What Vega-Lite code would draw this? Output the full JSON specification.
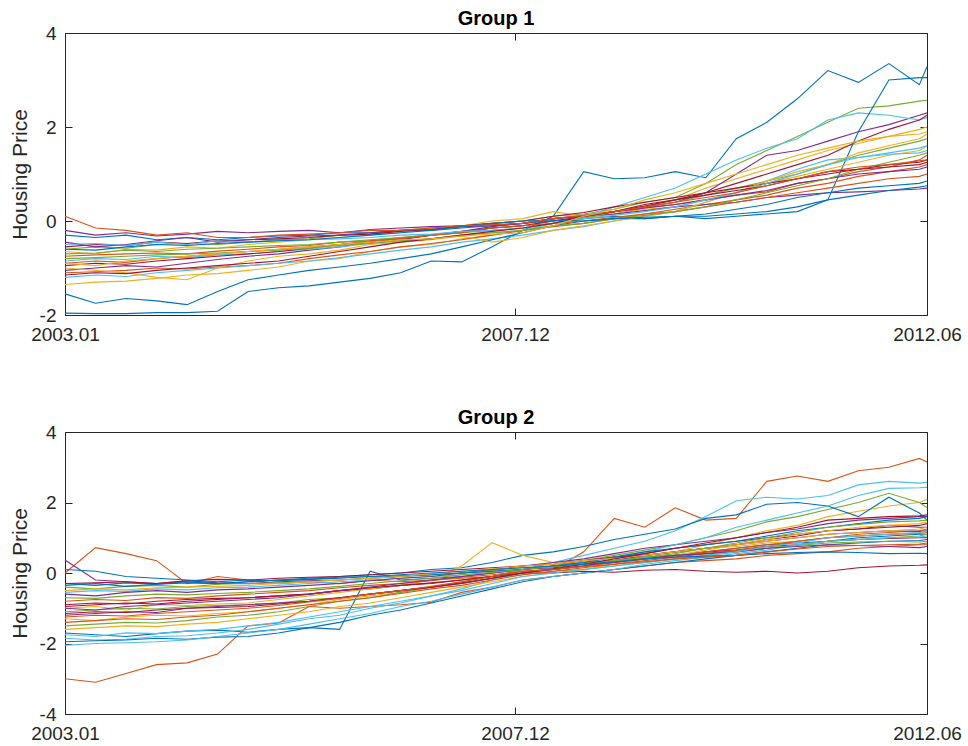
{
"$schema": "https://vega.github.io/schema/vega-lite/v6.json",
"background": "white",
"padding": {"left": 8, "top": 8, "right": 12, "bottom": 6},
"bounds": "flush",
"spacing": 117,
"config": {
  "view": {"stroke": "#262626", "strokeWidth": 1},
  "font": "Liberation Sans",
  "axis": {"domain": false, "grid": false, "tickColor": "#262626", "tickSize": 7, "offset": -7, "labelColor": "#262626", "labelFont": "Liberation Sans", "labelFontSize": 19, "titleFont": "Liberation Sans", "titleFontSize": 21, "titleFontWeight": "normal", "titleColor": "#262626", "labelOverlap": false, "labelFlush": false},
  "title": {"font": "Liberation Sans", "fontSize": 20, "fontWeight": "bold", "color": "#000000", "offset": -5, "anchor": "middle"}
},
"datasets": {
"g1": [
{"t":1,"s01":-1.96,"s02":-0.75,"s03":-1.35,"s04":-1.05,"s05":-0.6,"s06":-0.85,"s07":-0.95,"s08":-0.3,"s09":-1.1,"s10":-0.65,"s11":-0.2,"s12":-0.7,"s13":-1.2,"s14":-0.55,"s15":-1.55,"s16":-0.9,"s17":-1.0,"s18":-0.45,"s19":-0.8,"s20":-0.5,"s21":-1.15,"s22":-0.6,"s23":0.1,"s24":-0.9},
{"t":5,"s01":-1.97,"s02":-0.72,"s03":-1.3,"s04":-1.0,"s05":-0.55,"s06":-0.8,"s07":-0.9,"s08":-0.35,"s09":-1.08,"s10":-0.7,"s11":-0.3,"s12":-0.68,"s13":-1.15,"s14":-0.5,"s15":-1.75,"s16":-0.85,"s17":-1.05,"s18":-0.55,"s19":-0.78,"s20":-0.48,"s21":-1.1,"s22":-0.62,"s23":-0.15,"s24":-0.95},
{"t":9,"s01":-1.97,"s02":-0.7,"s03":-1.28,"s04":-0.95,"s05":-0.58,"s06":-0.82,"s07":-0.92,"s08":-0.3,"s09":-1.05,"s10":-0.6,"s11":-0.25,"s12":-0.62,"s13":-1.18,"s14":-0.52,"s15":-1.65,"s16":-0.88,"s17":-1.1,"s18":-0.5,"s19":-0.75,"s20":-0.52,"s21":-1.12,"s22":-0.55,"s23":-0.2,"s24":-0.85},
{"t":13,"s01":-1.95,"s02":-0.68,"s03":-1.22,"s04":-0.98,"s05":-0.5,"s06":-0.75,"s07":-0.85,"s08":-0.4,"s09":-1.0,"s10":-0.62,"s11":-0.32,"s12":-0.65,"s13":-1.1,"s14":-0.45,"s15":-1.7,"s16":-0.8,"s17":-1.2,"s18":-0.42,"s19":-0.72,"s20":-0.45,"s21":-1.05,"s22":-0.5,"s23":-0.3,"s24":-0.8},
{"t":17,"s01":-1.95,"s02":-0.7,"s03":-1.15,"s04":-0.9,"s05":-0.48,"s06":-0.78,"s07":-0.8,"s08":-0.35,"s09":-1.02,"s10":-0.55,"s11":-0.28,"s12":-0.6,"s13":-1.05,"s14":-0.48,"s15":-1.78,"s16":-0.75,"s17":-1.25,"s18":-0.35,"s19":-0.7,"s20":-0.5,"s21":-1.0,"s22":-0.52,"s23":-0.25,"s24":-0.75},
{"t":21,"s01":-1.92,"s02":-0.64,"s03":-1.12,"s04":-0.82,"s05":-0.5,"s06":-0.72,"s07":-0.75,"s08":-0.4,"s09":-0.98,"s10":-0.58,"s11":-0.22,"s12":-0.58,"s13":-1.0,"s14":-0.42,"s15":-1.5,"s16":-0.7,"s17":-1.0,"s18":-0.45,"s19":-0.68,"s20":-0.42,"s21":-0.95,"s22":-0.48,"s23":-0.35,"s24":-0.7},
{"t":25,"s01":-1.5,"s02":-0.6,"s03":-1.05,"s04":-0.75,"s05":-0.45,"s06":-0.7,"s07":-0.7,"s08":-0.35,"s09":-0.95,"s10":-0.5,"s11":-0.25,"s12":-0.55,"s13":-0.95,"s14":-0.4,"s15":-1.25,"s16":-0.65,"s17":-0.85,"s18":-0.4,"s19":-0.65,"s20":-0.45,"s21":-0.9,"s22":-0.45,"s23":-0.35,"s24":-0.65},
{"t":29,"s01":-1.42,"s02":-0.55,"s03":-0.98,"s04":-0.7,"s05":-0.4,"s06":-0.65,"s07":-0.65,"s08":-0.32,"s09":-0.9,"s10":-0.45,"s11":-0.22,"s12":-0.52,"s13":-0.9,"s14":-0.38,"s15":-1.15,"s16":-0.6,"s17":-0.75,"s18":-0.35,"s19":-0.62,"s20":-0.42,"s21":-0.85,"s22":-0.42,"s23":-0.3,"s24":-0.6},
{"t":33,"s01":-1.38,"s02":-0.52,"s03":-0.85,"s04":-0.62,"s05":-0.38,"s06":-0.6,"s07":-0.58,"s08":-0.3,"s09":-0.8,"s10":-0.4,"s11":-0.2,"s12":-0.5,"s13":-0.85,"s14":-0.35,"s15":-1.05,"s16":-0.55,"s17":-0.7,"s18":-0.32,"s19":-0.58,"s20":-0.4,"s21":-0.75,"s22":-0.4,"s23":-0.28,"s24":-0.55},
{"t":37,"s01":-1.3,"s02":-0.45,"s03":-0.8,"s04":-0.55,"s05":-0.3,"s06":-0.55,"s07":-0.5,"s08":-0.25,"s09":-0.72,"s10":-0.35,"s11":-0.25,"s12":-0.45,"s13":-0.78,"s14":-0.3,"s15":-0.98,"s16":-0.5,"s17":-0.62,"s18":-0.3,"s19":-0.52,"s20":-0.38,"s21":-0.65,"s22":-0.35,"s23":-0.25,"s24":-0.5},
{"t":41,"s01":-1.22,"s02":-0.42,"s03":-0.65,"s04":-0.45,"s05":-0.28,"s06":-0.48,"s07":-0.45,"s08":-0.25,"s09":-0.65,"s10":-0.3,"s11":-0.18,"s12":-0.4,"s13":-0.7,"s14":-0.28,"s15":-0.9,"s16":-0.42,"s17":-0.5,"s18":-0.25,"s19":-0.48,"s20":-0.35,"s21":-0.55,"s22":-0.3,"s23":-0.2,"s24":-0.45},
{"t":45,"s01":-1.1,"s02":-0.35,"s03":-0.55,"s04":-0.4,"s05":-0.2,"s06":-0.42,"s07":-0.38,"s08":-0.2,"s09":-0.55,"s10":-0.25,"s11":-0.15,"s12":-0.35,"s13":-0.62,"s14":-0.22,"s15":-0.8,"s16":-0.38,"s17":-0.45,"s18":-0.2,"s19":-0.42,"s20":-0.3,"s21":-0.45,"s22":-0.25,"s23":-0.2,"s24":-0.4},
{"t":49,"s01":-0.85,"s02":-0.3,"s03":-0.5,"s04":-0.3,"s05":-0.15,"s06":-0.38,"s07":-0.3,"s08":-0.2,"s09":-0.48,"s10":-0.15,"s11":-0.12,"s12":-0.3,"s13":-0.55,"s14":-0.18,"s15":-0.7,"s16":-0.3,"s17":-0.4,"s18":-0.18,"s19":-0.38,"s20":-0.28,"s21":-0.38,"s22":-0.2,"s23":-0.15,"s24":-0.38},
{"t":53,"s01":-0.87,"s02":-0.22,"s03":-0.38,"s04":-0.22,"s05":-0.1,"s06":-0.3,"s07":-0.25,"s08":-0.15,"s09":-0.4,"s10":-0.1,"s11":-0.1,"s12":-0.25,"s13":-0.45,"s14":-0.1,"s15":-0.55,"s16":-0.25,"s17":-0.32,"s18":-0.12,"s19":-0.3,"s20":-0.22,"s21":-0.3,"s22":-0.12,"s23":-0.1,"s24":-0.32},
{"t":57,"s01":-0.55,"s02":-0.15,"s03":-0.3,"s04":-0.12,"s05":-0.05,"s06":-0.25,"s07":-0.15,"s08":-0.1,"s09":-0.3,"s10":0.0,"s11":-0.08,"s12":-0.2,"s13":-0.38,"s14":-0.05,"s15":-0.4,"s16":-0.15,"s17":-0.45,"s18":-0.1,"s19":-0.25,"s20":-0.2,"s21":-0.22,"s22":-0.05,"s23":-0.08,"s24":-0.28},
{"t":61,"s01":-0.2,"s02":-0.1,"s03":-0.2,"s04":-0.05,"s05":0.0,"s06":-0.2,"s07":-0.1,"s08":-0.05,"s09":-0.2,"s10":0.05,"s11":-0.05,"s12":-0.15,"s13":-0.3,"s14":0.0,"s15":-0.25,"s16":-0.1,"s17":-0.35,"s18":-0.05,"s19":-0.2,"s20":-0.15,"s21":-0.15,"s22":0.0,"s23":-0.05,"s24":-0.25},
{"t":65,"s01":0.1,"s02":0.0,"s03":-0.1,"s04":0.05,"s05":0.1,"s06":-0.05,"s07":0.0,"s08":0.0,"s09":-0.12,"s10":0.2,"s11":0.05,"s12":-0.05,"s13":-0.2,"s14":0.1,"s15":-0.1,"s16":-0.05,"s17":-0.2,"s18":0.05,"s19":-0.1,"s20":-0.05,"s21":-0.05,"s22":0.02,"s23":0.05,"s24":-0.1},
{"t":69,"s01":1.05,"s02":0.08,"s03":0.05,"s04":0.12,"s05":0.15,"s06":0.1,"s07":0.1,"s08":0.05,"s09":-0.05,"s10":0.1,"s11":0.1,"s12":0.05,"s13":-0.12,"s14":0.18,"s15":0.0,"s16":0.0,"s17":-0.1,"s18":0.1,"s19":-0.05,"s20":0.05,"s21":0.1,"s22":0.0,"s23":0.12,"s24":0.1},
{"t":73,"s01":0.9,"s02":0.15,"s03":0.2,"s04":0.2,"s05":0.25,"s06":0.3,"s07":0.2,"s08":0.1,"s09":0.05,"s10":0.15,"s11":0.15,"s12":0.2,"s13":0.0,"s14":0.3,"s15":0.05,"s16":0.08,"s17":0.0,"s18":0.2,"s19":0.05,"s20":0.12,"s21":0.2,"s22":0.05,"s23":0.2,"s24":0.25},
{"t":77,"s01":0.92,"s02":0.28,"s03":0.3,"s04":0.3,"s05":0.4,"s06":0.5,"s07":0.35,"s08":0.05,"s09":0.15,"s10":0.25,"s11":0.22,"s12":0.3,"s13":0.1,"s14":0.4,"s15":0.05,"s16":0.15,"s17":0.1,"s18":0.28,"s19":0.12,"s20":0.2,"s21":0.32,"s22":0.08,"s23":0.3,"s24":0.45},
{"t":81,"s01":1.05,"s02":0.35,"s03":0.45,"s04":0.4,"s05":0.5,"s06":0.7,"s07":0.45,"s08":0.1,"s09":0.25,"s10":0.3,"s11":0.3,"s12":0.4,"s13":0.2,"s14":0.5,"s15":0.1,"s16":0.2,"s17":0.2,"s18":0.35,"s19":0.2,"s20":0.3,"s21":0.45,"s22":0.1,"s23":0.4,"s24":0.6},
{"t":85,"s01":0.92,"s02":0.45,"s03":0.7,"s04":0.6,"s05":0.8,"s06":1.0,"s07":0.6,"s08":0.05,"s09":0.35,"s10":0.45,"s11":0.35,"s12":0.55,"s13":0.4,"s14":0.6,"s15":0.1,"s16":0.3,"s17":0.4,"s18":0.45,"s19":0.3,"s20":0.45,"s21":0.55,"s22":0.15,"s23":0.5,"s24":0.8},
{"t":89,"s01":1.75,"s02":0.55,"s03":0.9,"s04":1.0,"s05":1.2,"s06":1.3,"s07":0.8,"s08":0.1,"s09":0.45,"s10":0.6,"s11":0.4,"s12":0.7,"s13":0.6,"s14":0.7,"s15":0.15,"s16":0.4,"s17":0.6,"s18":0.55,"s19":0.45,"s20":0.6,"s21":0.65,"s22":0.25,"s23":0.6,"s24":1.0},
{"t":93,"s01":2.1,"s02":0.62,"s03":1.1,"s04":1.4,"s05":1.5,"s06":1.55,"s07":1.0,"s08":0.15,"s09":0.55,"s10":0.8,"s11":0.5,"s12":0.85,"s13":0.85,"s14":0.8,"s15":0.2,"s16":0.5,"s17":0.85,"s18":0.65,"s19":0.6,"s20":0.8,"s21":0.75,"s22":0.35,"s23":0.75,"s24":1.2},
{"t":97,"s01":2.6,"s02":0.8,"s03":1.3,"s04":1.5,"s05":1.8,"s06":1.75,"s07":1.2,"s08":0.2,"s09":0.7,"s10":0.95,"s11":0.55,"s12":1.0,"s13":1.1,"s14":0.9,"s15":0.3,"s16":0.6,"s17":1.05,"s18":0.8,"s19":0.75,"s20":1.0,"s21":0.9,"s22":0.5,"s23":0.9,"s24":1.4},
{"t":101,"s01":3.2,"s02":0.9,"s03":1.5,"s04":1.7,"s05":2.1,"s06":2.15,"s07":1.4,"s08":0.45,"s09":0.8,"s10":1.1,"s11":0.6,"s12":1.2,"s13":1.3,"s14":1.0,"s15":0.45,"s16":0.7,"s17":1.2,"s18":0.9,"s19":0.9,"s20":1.2,"s21":1.05,"s22":0.6,"s23":1.05,"s24":1.55},
{"t":105,"s01":2.95,"s02":1.05,"s03":1.65,"s04":1.9,"s05":2.4,"s06":2.3,"s07":1.7,"s08":1.9,"s09":0.95,"s10":1.25,"s11":0.62,"s12":1.4,"s13":1.35,"s14":1.1,"s15":0.55,"s16":0.8,"s17":1.45,"s18":1.0,"s19":1.1,"s20":1.35,"s21":1.1,"s22":0.7,"s23":1.15,"s24":1.7},
{"t":109,"s01":3.35,"s02":1.15,"s03":1.8,"s04":2.05,"s05":2.45,"s06":2.25,"s07":1.95,"s08":3.0,"s09":1.05,"s10":1.4,"s11":0.65,"s12":1.55,"s13":1.42,"s14":1.2,"s15":0.65,"s16":0.9,"s17":1.6,"s18":1.05,"s19":1.25,"s20":1.45,"s21":1.15,"s22":0.75,"s23":1.2,"s24":1.8},
{"t":113,"s01":2.9,"s02":1.3,"s03":1.95,"s04":2.25,"s05":2.55,"s06":2.15,"s07":2.15,"s08":3.05,"s09":1.15,"s10":1.5,"s11":0.68,"s12":1.7,"s13":1.45,"s14":1.25,"s15":0.72,"s16":0.95,"s17":1.75,"s18":1.1,"s19":1.4,"s20":1.55,"s21":1.2,"s22":0.8,"s23":1.28,"s24":1.85},
{"t":114,"s01":3.28,"s02":1.4,"s03":2.0,"s04":2.3,"s05":2.57,"s06":2.2,"s07":2.25,"s08":3.05,"s09":1.2,"s10":1.6,"s11":0.7,"s12":1.75,"s13":1.5,"s14":1.3,"s15":0.75,"s16":1.0,"s17":1.85,"s18":1.15,"s19":1.45,"s20":1.6,"s21":1.25,"s22":0.85,"s23":1.3,"s24":1.9}
],
"g2": [
{"t":1,"s01":-1.7,"s02":0.0,"s03":-1.3,"s04":0.37,"s05":-1.5,"s06":-0.55,"s07":-0.95,"s08":-0.3,"s09":-3.0,"s10":-1.0,"s11":-0.6,"s12":-1.1,"s13":-1.85,"s14":-0.3,"s15":-1.95,"s16":-0.8,"s17":-1.6,"s18":-1.2,"s19":-0.4,"s20":-2.05,"s21":-0.9,"s22":0.1,"s23":-1.4,"s24":-0.5,"s25":-1.0,"s26":-0.7,"s27":-1.75,"s28":-1.15,"s29":-0.35,"s30":-1.25},
{"t":5,"s01":-1.75,"s02":0.72,"s03":-1.35,"s04":-0.2,"s05":-1.45,"s06":-0.5,"s07":-0.9,"s08":-0.35,"s09":-3.1,"s10":-0.95,"s11":-0.65,"s12":-1.05,"s13":-1.9,"s14":-0.28,"s15":-1.92,"s16":-0.75,"s17":-1.55,"s18":-1.15,"s19":-0.45,"s20":-2.0,"s21":-0.85,"s22":0.05,"s23":-1.35,"s24":-0.45,"s25":-1.05,"s26":-0.72,"s27":-1.8,"s28":-1.1,"s29":-0.3,"s30":-1.2},
{"t":9,"s01":-1.8,"s02":0.55,"s03":-1.25,"s04":-0.25,"s05":-1.4,"s06":-0.52,"s07":-0.85,"s08":-0.28,"s09":-2.85,"s10":-1.05,"s11":-0.55,"s12":-1.0,"s13":-1.88,"s14":-0.25,"s15":-1.9,"s16":-0.78,"s17":-1.5,"s18":-1.1,"s19":-0.38,"s20":-1.98,"s21":-0.88,"s22":-0.1,"s23":-1.3,"s24":-0.48,"s25":-0.95,"s26":-0.65,"s27":-1.7,"s28":-1.12,"s29":-0.38,"s30":-1.22},
{"t":13,"s01":-1.72,"s02":0.35,"s03":-1.2,"s04":-0.3,"s05":-1.42,"s06":-0.45,"s07":-0.88,"s08":-0.32,"s09":-2.6,"s10":-0.9,"s11":-0.5,"s12":-1.02,"s13":-1.8,"s14":-0.3,"s15":-1.85,"s16":-0.7,"s17":-1.52,"s18":-1.12,"s19":-0.35,"s20":-1.95,"s21":-0.8,"s22":-0.15,"s23":-1.32,"s24":-0.42,"s25":-0.9,"s26":-0.6,"s27":-1.72,"s28":-1.05,"s29":-0.32,"s30":-1.15},
{"t":17,"s01":-1.65,"s02":-0.3,"s03":-1.22,"s04":-0.22,"s05":-1.35,"s06":-0.48,"s07":-0.8,"s08":-0.25,"s09":-2.55,"s10":-0.92,"s11":-0.55,"s12":-0.95,"s13":-1.78,"s14":-0.22,"s15":-1.88,"s16":-0.72,"s17":-1.45,"s18":-1.0,"s19":-0.4,"s20":-1.9,"s21":-0.75,"s22":-0.2,"s23":-1.25,"s24":-0.4,"s25":-0.85,"s26":-0.62,"s27":-1.65,"s28":-1.0,"s29":-0.28,"s30":-1.1},
{"t":21,"s01":-1.62,"s02":-0.1,"s03":-1.15,"s04":-0.28,"s05":-1.25,"s06":-0.42,"s07":-0.75,"s08":-0.3,"s09":-2.3,"s10":-0.88,"s11":-0.48,"s12":-0.92,"s13":-1.7,"s14":-0.18,"s15":-1.82,"s16":-0.65,"s17":-1.4,"s18":-0.95,"s19":-0.32,"s20":-1.8,"s21":-0.72,"s22":-0.25,"s23":-1.2,"s24":-0.38,"s25":-0.8,"s26":-0.58,"s27":-1.6,"s28":-0.98,"s29":-0.3,"s30":-1.05},
{"t":25,"s01":-1.68,"s02":-0.2,"s03":-1.1,"s04":-0.3,"s05":-1.2,"s06":-0.4,"s07":-0.7,"s08":-0.25,"s09":-1.5,"s10":-0.85,"s11":-0.45,"s12":-0.9,"s13":-1.6,"s14":-0.2,"s15":-1.8,"s16":-0.6,"s17":-1.3,"s18":-0.9,"s19":-0.3,"s20":-1.7,"s21":-0.7,"s22":-0.2,"s23":-1.1,"s24":-0.35,"s25":-0.75,"s26":-0.55,"s27":-1.5,"s28":-0.95,"s29":-0.25,"s30":-1.0},
{"t":29,"s01":-1.6,"s02":-0.3,"s03":-1.0,"s04":-0.25,"s05":-1.1,"s06":-0.35,"s07":-0.65,"s08":-0.2,"s09":-1.42,"s10":-0.75,"s11":-0.4,"s12":-0.85,"s13":-1.45,"s14":-0.15,"s15":-1.7,"s16":-0.55,"s17":-1.2,"s18":-0.85,"s19":-0.28,"s20":-1.6,"s21":-0.65,"s22":-0.22,"s23":-1.0,"s24":-0.3,"s25":-0.7,"s26":-0.5,"s27":-1.4,"s28":-0.88,"s29":-0.2,"s30":-0.92},
{"t":33,"s01":-1.55,"s02":-0.25,"s03":-0.9,"s04":-0.22,"s05":-0.95,"s06":-0.3,"s07":-0.6,"s08":-0.15,"s09":-0.95,"s10":-0.65,"s11":-0.35,"s12":-0.75,"s13":-1.3,"s14":-0.12,"s15":-1.55,"s16":-0.5,"s17":-1.1,"s18":-0.8,"s19":-0.25,"s20":-1.45,"s21":-0.6,"s22":-0.18,"s23":-0.9,"s24":-0.25,"s25":-0.6,"s26":-0.45,"s27":-1.25,"s28":-0.8,"s29":-0.18,"s30":-0.82},
{"t":37,"s01":-1.6,"s02":-0.3,"s03":-0.75,"s04":-0.2,"s05":-0.8,"s06":-0.25,"s07":-0.5,"s08":-0.1,"s09":-1.0,"s10":-0.55,"s11":-0.3,"s12":-0.7,"s13":-1.2,"s14":-0.1,"s15":-1.4,"s16":-0.42,"s17":-0.95,"s18":-0.7,"s19":-0.2,"s20":-1.3,"s21":-0.5,"s22":-0.15,"s23":-0.8,"s24":-0.2,"s25":-0.5,"s26":-0.38,"s27":-1.1,"s28":-0.7,"s29":-0.12,"s30":-0.72},
{"t":41,"s01":0.05,"s02":-0.2,"s03":-0.65,"s04":-0.15,"s05":-0.7,"s06":-0.2,"s07":-0.45,"s08":-0.05,"s09":-0.95,"s10":-0.45,"s11":-0.22,"s12":-0.6,"s13":-1.0,"s14":-0.05,"s15":-1.2,"s16":-0.35,"s17":-0.85,"s18":-0.6,"s19":-0.15,"s20":-1.15,"s21":-0.42,"s22":-0.1,"s23":-0.7,"s24":-0.15,"s25":-0.4,"s26":-0.3,"s27":-0.95,"s28":-0.6,"s29":-0.1,"s30":-0.6},
{"t":45,"s01":-0.2,"s02":-0.25,"s03":-0.55,"s04":-0.1,"s05":-0.55,"s06":-0.15,"s07":-0.35,"s08":0.0,"s09":-0.9,"s10":-0.35,"s11":-0.15,"s12":-0.5,"s13":-0.85,"s14":0.0,"s15":-1.05,"s16":-0.3,"s17":-0.7,"s18":-0.5,"s19":-0.1,"s20":-0.95,"s21":-0.35,"s22":-0.08,"s23":-0.58,"s24":-0.1,"s25":-0.3,"s26":-0.22,"s27":-0.8,"s28":-0.5,"s29":-0.05,"s30":-0.5},
{"t":49,"s01":-0.15,"s02":-0.2,"s03":-0.4,"s04":-0.05,"s05":-0.4,"s06":-0.1,"s07":-0.3,"s08":0.1,"s09":-0.83,"s10":-0.2,"s11":-0.1,"s12":-0.4,"s13":-0.65,"s14":0.05,"s15":-0.85,"s16":-0.22,"s17":-0.55,"s18":-0.4,"s19":-0.05,"s20":-0.8,"s21":-0.28,"s22":-0.05,"s23":-0.45,"s24":-0.02,"s25":-0.2,"s26":-0.15,"s27":-0.65,"s28":-0.4,"s29":0.0,"s30":-0.38},
{"t":53,"s01":-0.1,"s02":-0.15,"s03":-0.3,"s04":0.0,"s05":-0.25,"s06":-0.05,"s07":-0.2,"s08":0.15,"s09":-0.55,"s10":0.2,"s11":0.0,"s12":-0.3,"s13":-0.45,"s14":0.1,"s15":-0.65,"s16":-0.12,"s17":-0.4,"s18":-0.3,"s19":0.0,"s20":-0.6,"s21":-0.2,"s22":0.0,"s23":-0.35,"s24":0.05,"s25":-0.1,"s26":-0.05,"s27":-0.5,"s28":-0.28,"s29":0.05,"s30":-0.25},
{"t":57,"s01":0.0,"s02":-0.1,"s03":-0.15,"s04":0.05,"s05":-0.1,"s06":0.0,"s07":-0.1,"s08":0.3,"s09":-0.4,"s10":0.86,"s11":0.1,"s12":-0.15,"s13":-0.2,"s14":0.15,"s15":-0.45,"s16":-0.05,"s17":-0.25,"s18":-0.15,"s19":0.08,"s20":-0.4,"s21":-0.1,"s22":0.05,"s23":-0.2,"s24":0.12,"s25":0.0,"s26":0.02,"s27":-0.3,"s28":-0.15,"s29":0.1,"s30":-0.1},
{"t":61,"s01":0.1,"s02":0.0,"s03":0.0,"s04":0.1,"s05":0.1,"s06":0.1,"s07":0.05,"s08":0.5,"s09":-0.2,"s10":0.5,"s11":0.2,"s12":-0.05,"s13":0.0,"s14":0.2,"s15":-0.25,"s16":0.05,"s17":-0.1,"s18":0.0,"s19":0.15,"s20":-0.2,"s21":0.0,"s22":0.1,"s23":-0.05,"s24":0.2,"s25":0.1,"s26":0.1,"s27":-0.1,"s28":0.0,"s29":0.15,"s30":0.05},
{"t":65,"s01":0.2,"s02":0.1,"s03":0.1,"s04":0.2,"s05":0.2,"s06":0.3,"s07":0.1,"s08":0.6,"s09":-0.1,"s10":0.3,"s11":0.3,"s12":0.05,"s13":0.15,"s14":0.25,"s15":-0.1,"s16":0.1,"s17":0.0,"s18":0.1,"s19":0.2,"s20":-0.1,"s21":0.0,"s22":0.2,"s23":0.05,"s24":0.25,"s25":0.15,"s26":0.18,"s27":0.0,"s28":0.12,"s29":0.2,"s30":0.1},
{"t":69,"s01":0.3,"s02":0.6,"s03":0.2,"s04":0.3,"s05":0.35,"s06":0.5,"s07":0.2,"s08":0.75,"s09":0.0,"s10":0.35,"s11":0.4,"s12":0.1,"s13":0.3,"s14":0.35,"s15":0.0,"s16":0.2,"s17":0.1,"s18":0.2,"s19":0.28,"s20":0.0,"s21":0.05,"s22":0.3,"s23":0.15,"s24":0.35,"s25":0.25,"s26":0.25,"s27":0.1,"s28":0.25,"s29":0.25,"s30":0.18},
{"t":73,"s01":0.35,"s02":1.55,"s03":0.35,"s04":0.45,"s05":0.5,"s06":0.7,"s07":0.3,"s08":0.95,"s09":0.1,"s10":0.45,"s11":0.55,"s12":0.2,"s13":0.45,"s14":0.45,"s15":0.1,"s16":0.3,"s17":0.25,"s18":0.35,"s19":0.35,"s20":0.1,"s21":0.02,"s22":0.45,"s23":0.25,"s24":0.42,"s25":0.3,"s26":0.35,"s27":0.2,"s28":0.4,"s29":0.32,"s30":0.25},
{"t":77,"s01":0.45,"s02":1.3,"s03":0.5,"s04":0.55,"s05":0.65,"s06":0.9,"s07":0.4,"s08":1.1,"s09":0.2,"s10":0.5,"s11":0.7,"s12":0.3,"s13":0.6,"s14":0.5,"s15":0.2,"s16":0.4,"s17":0.4,"s18":0.5,"s19":0.42,"s20":0.25,"s21":0.08,"s22":0.6,"s23":0.35,"s24":0.5,"s25":0.4,"s26":0.45,"s27":0.3,"s28":0.55,"s29":0.4,"s30":0.32},
{"t":81,"s01":0.5,"s02":1.85,"s03":0.6,"s04":0.7,"s05":0.8,"s06":1.2,"s07":0.5,"s08":1.25,"s09":0.3,"s10":0.6,"s11":0.8,"s12":0.4,"s13":0.8,"s14":0.6,"s15":0.3,"s16":0.5,"s17":0.5,"s18":0.6,"s19":0.5,"s20":0.35,"s21":0.1,"s22":0.7,"s23":0.45,"s24":0.6,"s25":0.5,"s26":0.55,"s27":0.4,"s28":0.7,"s29":0.45,"s30":0.4},
{"t":85,"s01":0.6,"s02":1.5,"s03":0.8,"s04":0.8,"s05":1.0,"s06":1.6,"s07":0.6,"s08":1.55,"s09":0.35,"s10":0.7,"s11":0.9,"s12":0.5,"s13":1.0,"s14":0.7,"s15":0.4,"s16":0.6,"s17":0.65,"s18":0.7,"s19":0.55,"s20":0.45,"s21":0.05,"s22":0.8,"s23":0.55,"s24":0.7,"s25":0.55,"s26":0.7,"s27":0.5,"s28":0.85,"s29":0.48,"s30":0.45},
{"t":89,"s01":0.7,"s02":1.55,"s03":1.0,"s04":0.9,"s05":1.2,"s06":2.05,"s07":0.65,"s08":1.65,"s09":0.4,"s10":0.75,"s11":1.0,"s12":0.6,"s13":1.3,"s14":0.8,"s15":0.5,"s16":0.7,"s17":0.8,"s18":0.8,"s19":0.62,"s20":0.55,"s21":0.02,"s22":0.9,"s23":0.65,"s24":0.8,"s25":0.6,"s26":0.85,"s27":0.6,"s28":1.0,"s29":0.5,"s30":0.5},
{"t":93,"s01":0.8,"s02":2.6,"s03":1.2,"s04":1.0,"s05":1.45,"s06":2.15,"s07":0.75,"s08":1.95,"s09":0.5,"s10":0.85,"s11":1.15,"s12":0.7,"s13":1.5,"s14":0.95,"s15":0.6,"s16":0.8,"s17":0.95,"s18":0.9,"s19":0.7,"s20":0.65,"s21":0.05,"s22":1.05,"s23":0.75,"s24":0.9,"s25":0.7,"s26":1.0,"s27":0.75,"s28":1.15,"s29":0.55,"s30":0.6},
{"t":97,"s01":0.85,"s02":2.75,"s03":1.35,"s04":1.1,"s05":1.6,"s06":2.1,"s07":0.8,"s08":2.0,"s09":0.55,"s10":0.9,"s11":1.25,"s12":0.8,"s13":1.7,"s14":1.05,"s15":0.7,"s16":0.9,"s17":1.1,"s18":1.0,"s19":0.78,"s20":0.8,"s21":0.0,"s22":1.2,"s23":0.9,"s24":1.0,"s25":0.75,"s26":1.15,"s27":0.85,"s28":1.3,"s29":0.58,"s30":0.68},
{"t":101,"s01":0.9,"s02":2.6,"s03":1.6,"s04":1.2,"s05":1.8,"s06":2.2,"s07":0.9,"s08":1.9,"s09":0.6,"s10":1.0,"s11":1.4,"s12":0.9,"s13":1.9,"s14":1.2,"s15":0.8,"s16":1.0,"s17":1.2,"s18":1.1,"s19":0.85,"s20":0.9,"s21":0.05,"s22":1.3,"s23":1.0,"s24":1.1,"s25":0.8,"s26":1.3,"s27":1.0,"s28":1.5,"s29":0.6,"s30":0.75},
{"t":105,"s01":1.0,"s02":2.9,"s03":1.75,"s04":1.25,"s05":2.0,"s06":2.5,"s07":0.95,"s08":1.6,"s09":0.7,"s10":1.05,"s11":1.5,"s12":0.95,"s13":2.2,"s14":1.25,"s15":0.85,"s16":1.1,"s17":1.3,"s18":1.15,"s19":0.88,"s20":0.95,"s21":0.15,"s22":1.4,"s23":1.05,"s24":1.15,"s25":0.78,"s26":1.38,"s27":1.05,"s28":1.55,"s29":0.58,"s30":0.78},
{"t":109,"s01":1.05,"s02":3.0,"s03":1.9,"s04":1.35,"s05":2.26,"s06":2.6,"s07":0.98,"s08":2.15,"s09":0.75,"s10":1.1,"s11":1.55,"s12":1.0,"s13":2.4,"s14":1.3,"s15":0.9,"s16":1.15,"s17":1.35,"s18":1.2,"s19":0.9,"s20":1.0,"s21":0.2,"s22":1.5,"s23":1.1,"s24":1.2,"s25":0.75,"s26":1.45,"s27":1.1,"s28":1.6,"s29":0.55,"s30":0.8},
{"t":113,"s01":1.1,"s02":3.25,"s03":2.0,"s04":1.3,"s05":2.0,"s06":2.55,"s07":1.0,"s08":1.7,"s09":0.8,"s10":1.15,"s11":1.6,"s12":1.05,"s13":2.42,"s14":1.35,"s15":0.92,"s16":1.2,"s17":1.4,"s18":1.18,"s19":0.88,"s20":1.02,"s21":0.22,"s22":1.55,"s23":1.12,"s24":1.25,"s25":0.72,"s26":1.48,"s27":1.15,"s28":1.62,"s29":0.56,"s30":0.82},
{"t":114,"s01":1.1,"s02":3.15,"s03":2.09,"s04":1.3,"s05":1.86,"s06":2.57,"s07":1.0,"s08":1.5,"s09":0.8,"s10":1.2,"s11":1.6,"s12":1.1,"s13":2.43,"s14":1.4,"s15":0.95,"s16":1.25,"s17":1.45,"s18":1.2,"s19":0.9,"s20":1.05,"s21":0.23,"s22":1.6,"s23":1.15,"s24":1.3,"s25":0.75,"s26":1.5,"s27":1.2,"s28":1.65,"s29":0.55,"s30":0.85}
]
},
"vconcat": [
{
  "width": 862, "height": 282,
  "title": {"text": "Group 1"},
  "data": {"name": "g1"},
  "transform": [{"fold": ["s01","s02","s03","s04","s05","s06","s07","s08","s09","s10","s11","s12","s13","s14","s15","s16","s17","s18","s19","s20","s21","s22","s23","s24"], "as": ["series","value"]}],
  "layer": [
    {"mark": {"type": "line", "strokeWidth": 1.1},
     "encoding": {
       "x": {"field": "t", "type": "quantitative", "scale": {"domain": [1,114], "nice": false, "zero": false},
             "axis": {"orient": "bottom", "values": [1,60,114], "title": null, "labelPadding": 10, "labelExpr": "datum.value == 1 ? '2003.01' : datum.value == 60 ? '2007.12' : '2012.06'"}},
       "y": {"field": "value", "type": "quantitative", "scale": {"domain": [-2,4], "nice": false, "zero": false},
             "axis": {"orient": "left", "values": [-2,0,2,4], "title": "Housing Price", "titlePadding": 9, "labelPadding": 9, "labelExpr": "toString(datum.value)"}},
       "color": {"field": "series", "type": "nominal", "scale": {"range": ["#0072BD","#D95319","#EDB120","#7E2F8E","#77AC30","#4DBEEE","#A2142F"]}, "legend": null}
     }},
    {"mark": {"type": "line", "opacity": 0},
     "encoding": {
       "x": {"field": "t", "type": "quantitative", "axis": {"orient": "top", "values": [1,60,114], "labels": false, "title": null}},
       "y": {"field": "value", "type": "quantitative", "axis": {"orient": "right", "values": [-2,0,2,4], "labels": false, "title": null}},
       "detail": {"field": "series"}
     }}
  ],
  "resolve": {"axis": {"x": "independent", "y": "independent"}}
},
{
  "width": 862, "height": 282,
  "title": {"text": "Group 2"},
  "data": {"name": "g2"},
  "transform": [{"fold": ["s01","s02","s03","s04","s05","s06","s07","s08","s09","s10","s11","s12","s13","s14","s15","s16","s17","s18","s19","s20","s21","s22","s23","s24","s25","s26","s27","s28","s29","s30"], "as": ["series","value"]}],
  "layer": [
    {"mark": {"type": "line", "strokeWidth": 1.1},
     "encoding": {
       "x": {"field": "t", "type": "quantitative", "scale": {"domain": [1,114], "nice": false, "zero": false},
             "axis": {"orient": "bottom", "values": [1,60,114], "title": null, "labelPadding": 10, "labelExpr": "datum.value == 1 ? '2003.01' : datum.value == 60 ? '2007.12' : '2012.06'"}},
       "y": {"field": "value", "type": "quantitative", "scale": {"domain": [-4,4], "nice": false, "zero": false},
             "axis": {"orient": "left", "values": [-4,-2,0,2,4], "title": "Housing Price", "titlePadding": 9, "labelPadding": 9, "labelExpr": "toString(datum.value)"}},
       "color": {"field": "series", "type": "nominal", "scale": {"range": ["#0072BD","#D95319","#EDB120","#7E2F8E","#77AC30","#4DBEEE","#A2142F"]}, "legend": null}
     }},
    {"mark": {"type": "line", "opacity": 0},
     "encoding": {
       "x": {"field": "t", "type": "quantitative", "axis": {"orient": "top", "values": [1,60,114], "labels": false, "title": null}},
       "y": {"field": "value", "type": "quantitative", "axis": {"orient": "right", "values": [-4,-2,0,2,4], "labels": false, "title": null}},
       "detail": {"field": "series"}
     }}
  ],
  "resolve": {"axis": {"x": "independent", "y": "independent"}}
}
],
"resolve": {"scale": {"color": "independent"}}
}
